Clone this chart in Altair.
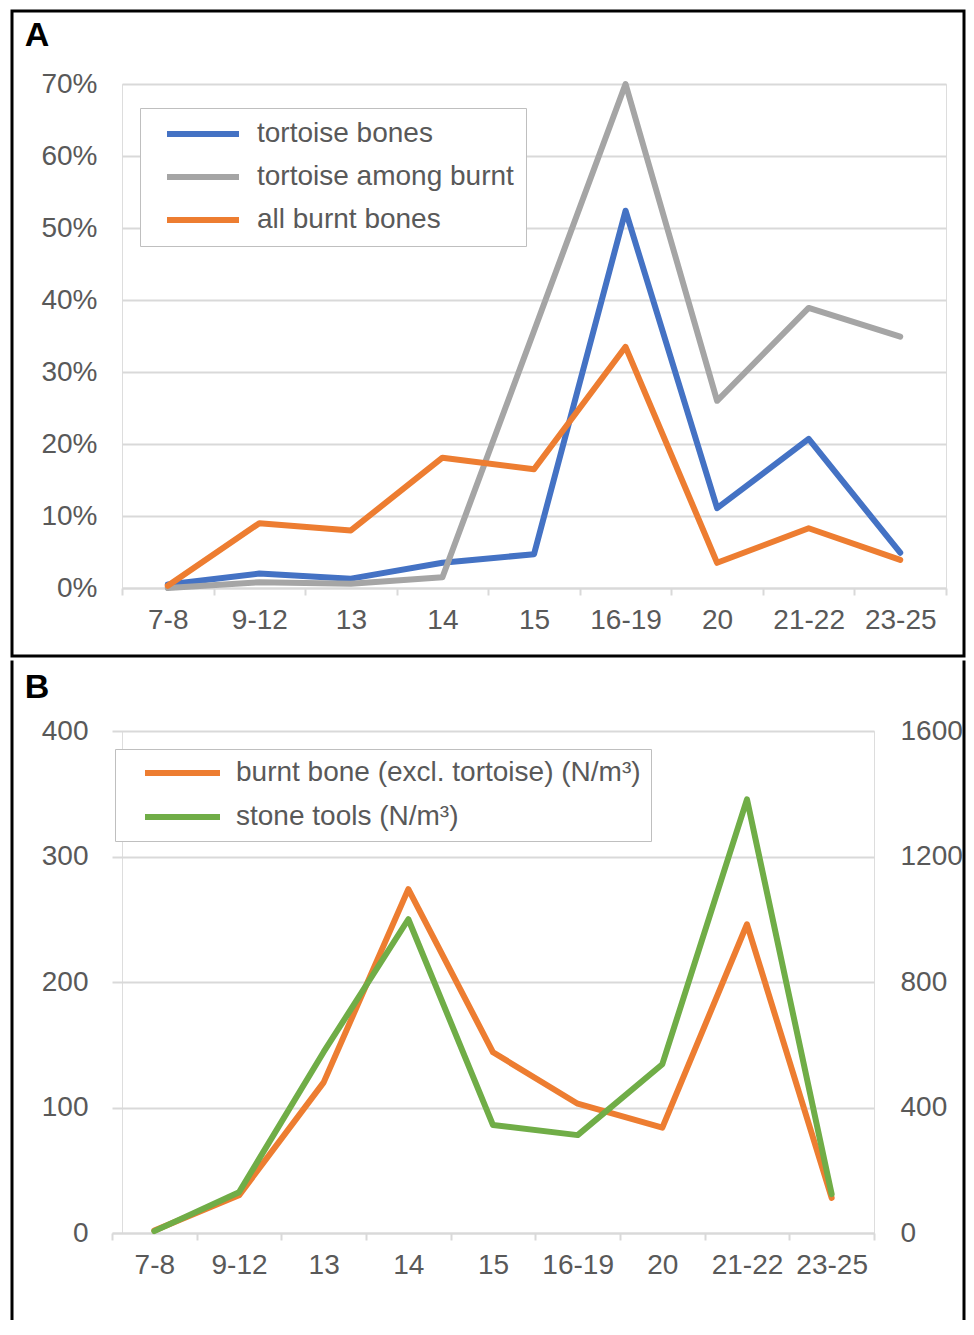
import altair as alt
import pandas as pd

# ---------------- data ----------------
cats = ["7-8", "9-12", "13", "14", "15", "16-19", "20", "21-22", "23-25"]

# Panel A (percent)
tortoise_bones = [0.5, 2.0, 1.3, 3.5, 4.7, 52.4, 11.1, 20.7, 4.9]
tortoise_among_burnt = [0.0, 0.8, 0.6, 1.5, 35.7, 70.0, 26.0, 38.9, 34.9]
all_burnt_bones = [0.3, 9.0, 8.0, 18.1, 16.5, 33.5, 3.5, 8.3, 3.9]
series_A = ["tortoise bones", "tortoise among burnt", "all burnt bones"]
colors_A = ["#4472C4", "#A5A5A5", "#ED7D31"]
ticks_A = [0, 0.1, 0.2, 0.3, 0.4, 0.5, 0.6, 0.7]

# Panel B (N/m3)
burnt_bone_excl = [2, 30, 120, 274, 144, 103, 84, 246, 28]
stone_tools = [6, 130, 577, 1000, 344, 312, 538, 1382, 124]
series_B = ["burnt bone (excl. tortoise) (N/m³)", "stone tools (N/m³)"]
colors_B = ["#ED7D31", "#70AD47"]
ticks_B_left = [0, 100, 200, 300, 400]
ticks_B_right = [0, 400, 800, 1200, 1600]

FONT = "Liberation Sans"
LABEL_COLOR = "#595959"
GRID = "#D9D9D9"
FS = 28
LW = 6

rowsA = []
for name, vals in zip(series_A, [tortoise_bones, tortoise_among_burnt, all_burnt_bones]):
    for c, v in zip(cats, vals):
        rowsA.append({"catA": c, "valA": v / 100.0, "seriesA": name})
dfA = pd.DataFrame(rowsA)

rowsB = []
for name, vals in zip(series_B, [burnt_bone_excl, stone_tools]):
    for c, v in zip(cats, vals):
        rowsB.append({"catB": c, "valB": v, "seriesB": name})
dfB = pd.DataFrame(rowsB)

dummy = pd.DataFrame({"d": [0]})

# ---------------- panel A ----------------
WA, HA = 824, 504

xA = alt.X("catA:N", sort=cats, title=None,
           scale=alt.Scale(type="band", paddingInner=0, paddingOuter=0),
           axis=alt.Axis(labelAngle=0, labelFont=FONT, labelFontSize=FS, labelColor=LABEL_COLOR,
                         tickBand="extent", ticks=True, tickColor=GRID, tickWidth=2, tickSize=7,
                         labelPadding=11, domainColor=GRID, domainWidth=2, grid=False))
yA = alt.Y("valA:Q", title=None,
           scale=alt.Scale(domain=[0, 0.7], nice=False),
           axis=alt.Axis(values=ticks_A, format=".0%", domain=False, ticks=False,
                         labelFont=FONT, labelFontSize=FS, labelColor=LABEL_COLOR, labelPadding=25,
                         gridColor=GRID, gridWidth=2))

linesA = alt.Chart(dfA).mark_line(strokeWidth=LW, strokeJoin="round", strokeCap="round").encode(
    x=xA, y=yA,
    color=alt.Color("seriesA:N", sort=series_A,
                    scale=alt.Scale(domain=series_A, range=colors_A),
                    legend=alt.Legend(title=None, orient="none", legendX=18, legendY=24,
                                      direction="vertical", symbolType="stroke",
                                      symbolStrokeWidth=6, symbolSize=5184, symbolOffset=12,
                                      clipHeight=28,
                                      labelFont=FONT, labelFontSize=FS, labelColor=LABEL_COLOR,
                                      labelOffset=15, rowPadding=15, padding=12,
                                      strokeColor="#BFBFBF", fillColor="white",
                                      labelLimit=500)),
)

borderA = alt.Chart(dummy).mark_rect(filled=False, stroke="black", strokeWidth=3).encode(
    x=alt.value(-110), x2=alt.value(842), y=alt.value(-73), y2=alt.value(572))
labelA = alt.Chart(dummy).mark_text(text="A", font=FONT, fontSize=34, fontWeight="bold",
                                    color="black", align="center", baseline="middle").encode(
    x=alt.value(-85), y=alt.value(-48))

panelA = alt.layer(borderA, linesA, labelA).properties(width=WA, height=HA)

# ---------------- panel B ----------------
WB, HB = 752, 502

xB = alt.X("catB:N", sort=cats, title=None,
           scale=alt.Scale(type="band", paddingInner=0, paddingOuter=0, range=[-10, WB]),
           axis=alt.Axis(labelAngle=0, labelFont=FONT, labelFontSize=FS, labelColor=LABEL_COLOR,
                         tickBand="extent", ticks=True, tickColor=GRID, tickWidth=2, tickSize=7,
                         labelPadding=11, domainColor=GRID, domainWidth=2, grid=False))

colorB = alt.Color("seriesB:N", sort=series_B,
                   scale=alt.Scale(domain=series_B, range=colors_B),
                   legend=alt.Legend(title=None, orient="none", legendX=-7, legendY=18,
                                     direction="vertical", symbolType="stroke",
                                     symbolStrokeWidth=6, symbolSize=5625, symbolOffset=17,
                                     clipHeight=28,
                                     labelFont=FONT, labelFontSize=FS, labelColor=LABEL_COLOR,
                                     labelOffset=13, rowPadding=16, padding=10,
                                     strokeColor="#BFBFBF", fillColor="white",
                                     labelLimit=600))

lineBurnt = alt.Chart(dfB).transform_filter(alt.datum.seriesB == series_B[0]).mark_line(
    strokeWidth=LW, strokeJoin="round", strokeCap="round").encode(
    x=xB,
    y=alt.Y("valB:Q", title=None, scale=alt.Scale(domain=[0, 400], nice=False),
            axis=alt.Axis(values=ticks_B_left, domain=False, ticks=False, orient="left",
                          labelFont=FONT, labelFontSize=FS, labelColor=LABEL_COLOR, labelPadding=34,
                          gridColor=GRID, gridWidth=2)),
    color=colorB)

lineStone = alt.Chart(dfB).transform_filter(alt.datum.seriesB == series_B[1]).mark_line(
    strokeWidth=LW, strokeJoin="round", strokeCap="round").encode(
    x=xB,
    y=alt.Y("valB:Q", title=None, scale=alt.Scale(domain=[0, 1600], nice=False),
            axis=alt.Axis(values=ticks_B_right, format="d", domain=False, ticks=False,
                          orient="right", grid=False,
                          labelFont=FONT, labelFontSize=FS, labelColor=LABEL_COLOR, labelPadding=26)),
    color=colorB)

sideL = alt.Chart(dummy).mark_rule(stroke="black", strokeWidth=3).encode(
    x=alt.value(-110), y=alt.value(-70.5), y2=alt.value(589))
sideR = alt.Chart(dummy).mark_rule(stroke="black", strokeWidth=3).encode(
    x=alt.value(842), y=alt.value(-70.5), y2=alt.value(589))
labelB = alt.Chart(dummy).mark_text(text="B", font=FONT, fontSize=34, fontWeight="bold",
                                    color="black", align="center", baseline="middle").encode(
    x=alt.value(-85), y=alt.value(-43))

panelB = alt.layer(sideL, sideR, lineBurnt, lineStone, labelB).resolve_scale(y="independent").properties(
    width=WB, height=HB)

chart = alt.vconcat(panelA, panelB, spacing=0).resolve_scale(
    x="independent", y="independent", color="independent").properties(
    padding={"left": 2, "top": 1, "right": 0, "bottom": 0}
).configure_view(stroke=None).configure(background="white")

chart.save("out.html", embed_options={"renderer": "svg", "actions": False})
